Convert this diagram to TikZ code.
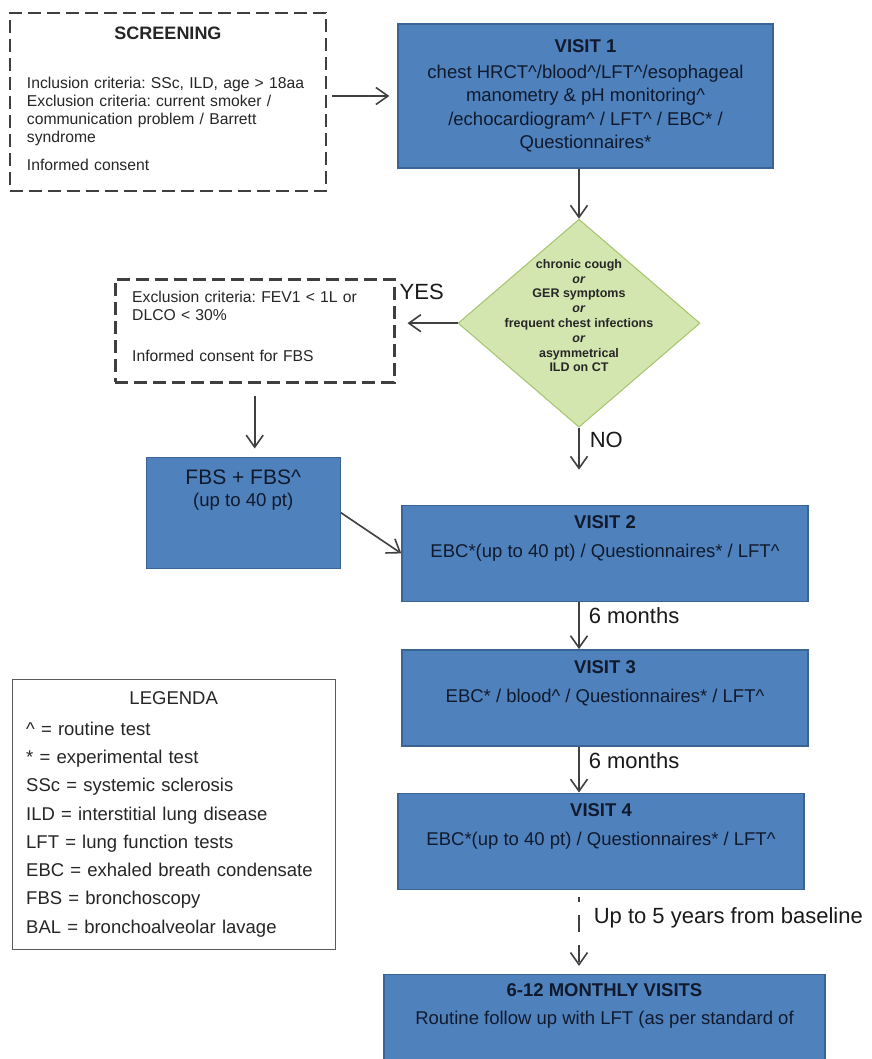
\documentclass[tikz,border=0pt]{standalone}
\usepackage{fontspec}
\setmainfont{Liberation Sans}
\frenchspacing
\usepackage{tikz}
\usetikzlibrary{shapes.geometric, arrows.meta, positioning}
\definecolor{visitblue}{HTML}{4F81BD}
\definecolor{visitedge}{HTML}{3A6494}
\definecolor{visittext}{HTML}{101A2C}
\definecolor{dashgrey}{HTML}{3F3F3F}
\definecolor{arrgrey}{HTML}{404040}
\definecolor{condgreen}{HTML}{D4E6B0}
\definecolor{condedge}{HTML}{A6C36A}
\definecolor{legedge}{HTML}{5A5A5A}

\begin{document}
\begin{tikzpicture}[
  x=1pt, y=-1pt,
  dashbox/.style={draw=dashgrey, line width=2.6pt, dash pattern=on 13pt off 6pt, align=left, inner xsep=17pt, text=black!85, font=\fontsize{15.7}{18}\selectfont},
  visit/.style={draw=visitedge, line width=1.4pt, fill=visitblue, text=visittext, align=center, minimum width=406pt, minimum height=96pt, font=\fontsize{18.5}{23.5}\selectfont},
  cond/.style={diamond, draw=condedge, line width=1pt, fill=condgreen, minimum width=242pt, minimum height=208pt, inner sep=0pt},
  condtext/.style={align=center, text=black!85, font=\bfseries\fontsize{12.5}{14.8}\selectfont},
  legbox/.style={draw=legedge, line width=1.2pt, align=left, inner xsep=14pt, text width=295pt, minimum height=270pt, text=black!85, font=\fontsize{18.5}{28.3}\selectfont},
  arr/.style={-{Straight Barb[length=12pt, width=17pt]}, line width=1.6pt, arrgrey},
  lbl/.style={inner sep=0pt, text=black!90, font=\fontsize{22}{26}\selectfont},
]
\useasboundingbox (0,0) rectangle (871,1059);
\clip (0,0) rectangle (871,1059);
\fill[white] (0,0) rectangle (871,1059);

% Baseline visit and screening
\node[visit, minimum width=375pt, minimum height=144pt] (visit1) at (585.5,96)
  {\textbf{VISIT 1}\\[2.5pt]
   chest HRCT\textasciicircum/blood\textasciicircum/LFT\textasciicircum/esophageal\\
   manometry \& pH monitoring\textasciicircum\\
   /echocardiogram\textasciicircum{} / LFT\textasciicircum{} / EBC* /\\
   Questionnaires*};
\node[dashbox, text width=282pt, minimum height=178pt, left=70pt of visit1, yshift=-6pt] (screen)
  {\makebox[282pt]{\fontsize{18}{18}\selectfont\bfseries SCREENING}\\[31pt]
   \mbox{Inclusion criteria: SSc, ILD, age > 18aa}\\
   Exclusion criteria: current smoker /\\
   communication problem / Barrett\\
   syndrome\\[10pt]
   Informed consent\\[-12pt]\mbox{}};

% Decision
\node[cond, below=50pt of visit1, xshift=-6.5pt] (check) {};
\node[condtext, yshift=7.5pt] (checktext) at (check)
  {chronic cough\\ \textit{or}\\ GER symptoms\\ \textit{or}\\ frequent chest infections\\ \textit{or}\\ asymmetrical\\ ILD on CT};

% Bronchoscopy branch
\node[dashbox, text width=245pt, minimum height=103pt, left=62pt of check, yshift=-7.5pt] (excl)
  {Exclusion criteria: FEV1 < 1L or\\ DLCO < 30\%\\[23pt] Informed consent for FBS\\[-10pt]\mbox{}};
\node[visit, minimum width=194pt, minimum height=111pt, below=73pt of excl, xshift=-11.5pt, font=\fontsize{18.6}{22}\selectfont] (fbs)
  {{\fontsize{21}{22}\selectfont FBS + FBS\textasciicircum}\\ (up to 40 pt)\\[27.5pt]\mbox{}};

% Follow-up visits
\node[visit, below=77pt of check, xshift=26pt] (visit2)
  {\textbf{VISIT 2}\\[5pt] EBC*(up to 40 pt) / Questionnaires* / LFT\textasciicircum\\[10pt]\mbox{}};
\node[visit, below=47pt of visit2] (visit3)
  {\textbf{VISIT 3}\\[5pt] EBC* / blood\textasciicircum{} / Questionnaires* / LFT\textasciicircum\\[9pt]\mbox{}};
\node[visit, below=46pt of visit3, xshift=-4pt] (visit4)
  {\textbf{VISIT 4}\\[5pt] EBC*(up to 40 pt) / Questionnaires* / LFT\textasciicircum\\[10pt]\mbox{}};
\node[visit, minimum width=441pt, below=84pt of visit4, xshift=3.5pt] (final)
  {\textbf{6-12 MONTHLY VISITS}\\[5pt] Routine follow up with LFT (as per standard of\\[14pt]\mbox{}};

% Legend
\node[legbox, below=110pt of fbs, xshift=-69.5pt] (legend)
  {\makebox[295pt]{LEGENDA}\\[2pt]
   \textasciicircum{} = routine test\\
   {*} = experimental test\\
   SSc = systemic sclerosis\\
   ILD = interstitial lung disease\\
   LFT = lung function tests\\
   EBC = exhaled breath condensate\\
   FBS = bronchoscopy\\
   BAL = bronchoalveolar lavage};

% Arrows
\draw[arr, shorten <=5pt, shorten >=8pt] (screen.east |- visit1.west) -- (visit1.west);
\draw[arr] (check.north |- visit1.south) -- (check.north);
\draw[arr, shorten >=12pt] (check.west) -- (check.west -| excl.east);
\node[lbl, right=4pt of excl.north east, yshift=-14pt] (yes) {YES};
\draw[arr, shorten <=12pt, shorten >=8pt] (excl.south) -- (excl.south |- fbs.north);
\draw[arr] (fbs.east) -- (visit2.west);
\draw[arr, shorten >=35pt] (check.south) -- (check.south |- visit2.north)
  node[lbl, pos=0.16, right=10pt] (no) {NO};
\draw[arr] (check.south |- visit2.south) -- (check.south |- visit3.north)
  node[lbl, pos=0.29, right=9pt] (sixa) {6 months};
\draw[arr] (check.south |- visit3.south) -- (check.south |- visit4.north)
  node[lbl, pos=0.3, right=9pt] (sixb) {6 months};
\draw[arr, dash pattern=on 17pt off 13pt, dash phase=12pt, shorten <=7pt, shorten >=8pt] (check.south |- visit4.south) -- (check.south |- final.north)
  node[lbl, pos=0.33, right=14pt] (years) {Up to 5 years from baseline};

\end{tikzpicture}
\end{document}
